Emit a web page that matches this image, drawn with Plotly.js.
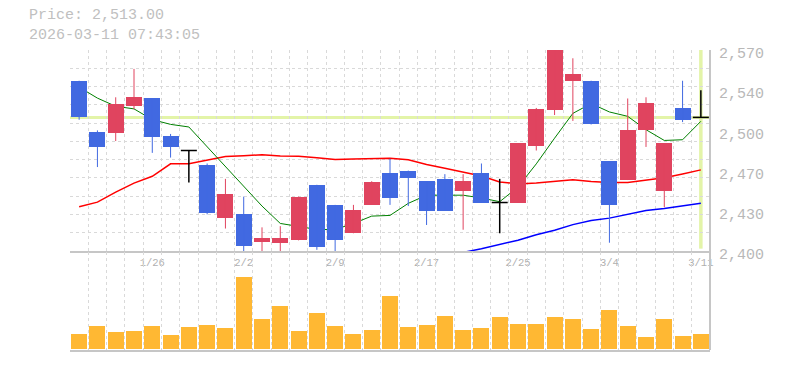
<!DOCTYPE html>
<html><head><meta charset="utf-8">
<script src="https://cdn.plot.ly/plotly-3.0.1.min.js"></script>
<style>html,body{margin:0;padding:0;background:#fff}#chart{width:785px;height:370px}</style>
</head><body><div id="chart"></div>
<script>
// ---- data ----
const dates = ['1/20','1/21','1/22','1/23','1/26','1/27','1/28','1/29','1/30','2/2','2/3','2/4','2/5','2/6','2/9','2/10','2/12','2/13','2/16','2/17','2/18','2/19','2/20','2/24','2/25','2/26','2/27','3/2','3/3','3/4','3/5','3/6','3/9','3/10','3/11'];
const open  = [2544,2501,2500,2523,2529,2497,2485,2473,2428,2431,2408,2407,2409,2456,2439,2415,2439,2466,2468,2459,2461,2451,2466,2441,2441,2489,2519,2544,2544,2476,2460,2502,2451,2521,2513];
const high  = [2544,2502,2530,2554,2529,2499,2485,2474,2461,2446,2420,2421,2446,2456,2439,2439,2459,2478,2468,2459,2465,2465,2474,2461,2491,2521,2570,2563,2544,2476,2529,2530,2491,2544,2536];
const low   = [2511,2471,2493,2520,2483,2479,2458,2431,2419,2400,2400,2400,2409,2401,2400,2415,2439,2439,2438,2422,2434,2418,2441,2415,2441,2485,2515,2510,2507,2407,2460,2488,2437,2509,2513];
const close = [2513,2488,2524,2530,2496,2488,2485,2432,2448,2404,2411,2411,2446,2403,2409,2435,2458,2445,2462,2434,2434,2459,2441,2441,2491,2520,2570,2550,2507,2439,2502,2525,2491,2511,2513];
const ma5   = [2538.6,2529.3,2522.4,2520.2,2511.1,2507.1,2504.9,2488.4,2471.7,2454.7,2438.0,2423.3,2421.0,2418.2,2418.2,2423.3,2429.5,2430.1,2440.3,2447.2,2447.2,2447.2,2444.8,2441.7,2454.1,2473.7,2495.4,2516.4,2524.7,2517.6,2513.9,2502.6,2493.5,2494.1,2509.7];
const ma25  = [2437.4,2441.3,2449.8,2457.4,2463.2,2473.7,2473.7,2477.1,2479.9,2480.5,2481.4,2480.3,2480.2,2478.8,2477.4,2477.9,2478.5,2478.5,2477.1,2473.2,2470.0,2466.5,2463.5,2458.4,2456.7,2457.5,2458.8,2460.3,2458.7,2458.0,2458.0,2459.7,2462.0,2465.2,2468.6];
const ma75  = [null,null,null,null,null,null,null,null,null,null,null,null,null,null,null,null,null,null,null,null,2395.0,2398.8,2401.9,2405.3,2409.1,2413.8,2417.6,2422.3,2425.7,2427.8,2430.8,2434.2,2435.9,2438.0,2440.3];
const volume = [14300,22300,16300,17300,22300,13300,21300,23300,20300,71300,29300,42300,17300,35300,22300,14300,18300,52300,21300,23300,32300,18300,20300,31300,24300,24300,31300,29300,19300,38300,22300,11300,29300,12300,14300];
const xTickLabels = ['1/26','2/2','2/9','2/17','2/25','3/4','3/11'];
const yTickVals = [2400,2434,2468,2502,2536,2570];
const yTickText = ['2,400','2,430','2,470','2,500','2,540','2,570'];
const priceRange = [2400, 2570];
const headerLines = ['Price: 2,513.00', '2026-03-11 07:43:05'];

// ---- styles ----
const UP = '#e0445f', DOWN = '#4169e1', DOJI = '#000000';
const VOLC = '#ffb833', GRID = '#d9d9d9', AXL = '#c6c6c6', BAND = '#e3f4a8';
const BW = 0.875;
const FONT = 'Liberation Mono, DejaVu Sans Mono, monospace';

const idx = dates.map((d, i) => i);
const xTickVals = xTickLabels.map(l => dates.indexOf(l));
const dir = idx.map(i => close[i] > open[i] ? 'up' : (close[i] < open[i] ? 'down' : 'doji'));
const last = dates.length - 1;

function wick(kind) {
  const xs = [], ys = [];
  idx.forEach(i => { if (dir[i] === kind) { xs.push(i, i, null); ys.push(low[i], high[i], null); } });
  return {xs, ys};
}
const bodyIdx = idx.filter(i => dir[i] !== 'doji');
const dojiIdx = idx.filter(i => dir[i] === 'doji');

const traces = [];
traces.push({type:'scatter', mode:'lines', x:idx, y:ma75, xaxis:'x', yaxis:'y', line:{color:'#0000ff', width:1.5}, connectgaps:false});
traces.push({type:'scatter', mode:'lines', x:idx, y:ma25, xaxis:'x', yaxis:'y', line:{color:'#ff0000', width:1.5}});
traces.push({type:'scatter', mode:'lines', x:idx, y:ma5, xaxis:'x', yaxis:'y', line:{color:'#008000', width:1}});

traces.push({type:'bar', x:bodyIdx, base:bodyIdx.map(i => Math.min(open[i], close[i])),
  y:bodyIdx.map(i => Math.abs(close[i] - open[i])), width:BW, xaxis:'x', yaxis:'y2',
  marker:{color:bodyIdx.map(i => dir[i] === 'up' ? UP : DOWN), line:{width:0}}});
[['up', UP, 1], ['down', DOWN, 1], ['doji', DOJI, 1.5]].forEach(([k, c, w]) => {
  const ww = wick(k);
  traces.push({type:'scatter', mode:'lines', x:ww.xs, y:ww.ys, xaxis:'x', yaxis:'y2', line:{color:c, width:w}});
});
const dx = [], dy = [];
dojiIdx.forEach(i => { dx.push(i - BW/2, i + BW/2, null); dy.push(close[i], close[i], null); });
traces.push({type:'scatter', mode:'lines', x:dx, y:dy, xaxis:'x', yaxis:'y2', line:{color:DOJI, width:1.5}});

traces.push({type:'bar', x:idx, y:volume, width:BW, xaxis:'x2', yaxis:'y3', marker:{color:VOLC, line:{width:0}}});

const minorX = {tickmode:'linear', tick0:-0.5, dtick:1, showgrid:true, gridcolor:GRID, griddash:'3px,3px', gridwidth:1, ticks:''};

const layout = {
  width:785, height:370,
  margin:{l:70, r:75, t:50, b:20},
  paper_bgcolor:'#ffffff', plot_bgcolor:'#ffffff',
  showlegend:false, hovermode:false, bargap:0,
  font:{family:FONT, color:'#b0b0b0'},
  xaxis:{domain:[0,1], anchor:'y', range:[-0.5, last + 0.5], tickmode:'array', tickvals:xTickVals, ticktext:xTickLabels,
    ticks:'', showgrid:false, zeroline:false, showline:true, linecolor:AXL, linewidth:2,
    tickfont:{family:FONT, size:10.5, color:'#b0b0b0'}, ticklabelstandoff:0, minor:minorX},
  yaxis:{domain:[0.33,1], anchor:'x', side:'right', range:priceRange, tickmode:'array', tickvals:yTickVals, ticktext:yTickText,
    ticks:'', showgrid:false, zeroline:false, showline:false,
    tickfont:{family:FONT, size:15, color:'#b8b8b8'}, ticklabelstandoff:8, ticklabelshift:3,
    minor:{tickmode:'linear', tick0:priceRange[0], dtick:(priceRange[1]-priceRange[0])/11, showgrid:true, gridcolor:GRID, griddash:'3px,3px', gridwidth:1, ticks:''}},
  yaxis2:{overlaying:'y', range:priceRange, visible:false, side:'right'},
  xaxis2:{domain:[0,1], anchor:'y3', matches:'x', showticklabels:false, ticks:'', showgrid:false, zeroline:false,
    showline:true, linecolor:AXL, linewidth:2, minor:minorX},
  yaxis3:{domain:[0,0.328], anchor:'x2', range:[-1500, 96900], visible:false},
  shapes:[
    {type:'line', layer:'below', xref:'paper', x0:0, x1:1, yref:'y', y0:close[last], y1:close[last], line:{color:BAND, width:3}},
    {type:'line', layer:'below', xref:'x', x0:last, x1:last, yref:'y', y0:priceRange[0]+2, y1:priceRange[1], line:{color:BAND, width:3.5}},
    {type:'line', layer:'above', xref:'paper', x0:1, x1:1, yref:'paper', y0:0, y1:1, line:{color:AXL, width:2}}
  ],
  annotations:[
    {xref:'paper', yref:'paper', x:-0.066, y:1.0817, xanchor:'left', yanchor:'middle', align:'left', showarrow:false, borderpad:0,
     text:headerLines.join('<br>'), font:{family:FONT, size:15, color:'#c0c0c0'}}
  ]
};

Plotly.newPlot('chart', traces, layout, {staticPlot:true, displayModeBar:false});
</script>
</body></html>
